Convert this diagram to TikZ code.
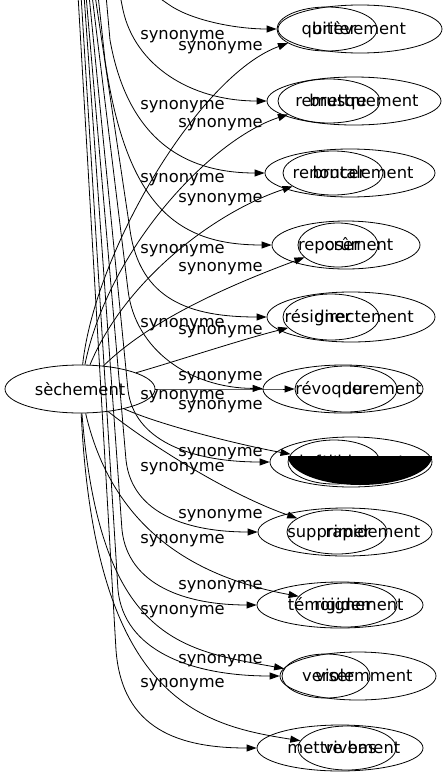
\documentclass[tikz,border=0pt]{standalone}
\usepackage{fontspec}
\setmainfont{DejaVu Sans}
\usetikzlibrary{arrows.meta,shapes.geometric}

\begin{document}
\begin{tikzpicture}[x=1pt, y=-1pt, line width=0.8pt,
    font=\fontsize{16.3}{19}\selectfont,
    ring/.style={draw, ellipse, inner sep=0pt},
    word/.style={inner sep=0pt, anchor=base},
    lbl/.style={inner sep=0pt},
    syn/.style={-{Triangle[length=10pt, width=7pt]}}]

\useasboundingbox (0,0) rectangle (446,779);

\node[ring, minimum width=150pt, minimum height=48pt] (sech) at (80,389) {sèchement};

    % rows: big ellipse, small ellipse, both words
    \foreach \n/\y/\bx/\brx/\bry/\sx/\srx/\sry/\bt/\st/\bw/\sw in {
    1/29/360/82/24/327/50/22/359/329/brièvement/quitter,
    2/101/354/87/24/329/51/22/364/331/brusquement/remettre,
    3/173/350/85/24/333/50/22/363/329/brutalement/renoncer,
    4/245/346/74/24/338/40/22/359/329/crûment/reposer,
    5/317/351/84/25/331/48/23/364/318/directement/résigner,
    6/389/343/80/24/346/51/23/382/332/durement/révoquer,
    7/462/351/81/25/334/46/22/360/330/froidement/destituer,
    8/532/345/87/24/337/50/22/373/329/rapidement/supprimer,
    9/605/340/83/23/346/51/22/359/330/rigidement/témoigner,
    10/676/358/78/24/326/44/22/364/328/violemment/verser,
    11/748/340/83/23/347/49/22/362/332/vivement/mettre bas}
    {
    \node[ring, minimum width={2*\brx}, minimum height={2*\bry}] (b\n) at (\bx,\y) {};
    \node[ring, minimum width={2*\srx}, minimum height={2*\sry}] (s\n) at (\sx,\y) {};
    \node[word] (bw\n) at (\bt,\y+5.5) {\bw};
    \node[word] (sw\n) at (\st,\y+5.5) {\sw};
    }

    \begin{scope}
    \clip (280,456) rectangle (440,495);
    \fill (360,456) ellipse [x radius=72, y radius=29];
    \end{scope}

    % edges coming down from above
    \foreach \n/\tx/\kx/\ky/\ax/\ay/\bx/\by/\tgt in {
    1/155/168/4/190/20/235/29/s1,
    2/120/123/10/135/65/190/101/b2,
    3/106/110/40/127/135/180/173/b3,
    4/98/105/60/127/210/180/245/b4,
    5/95/130/230/140/300/190/317/b5,
    6/92/128/290/135/350/190/388/b6,
    7/89/128/390/134/440/190/462/b7,
    8/86/126/460/132/515/190/532/b8,
    9/84/122/530/128/585/185/605/b9,
    10/81/118/590/124/650/190/676/b10,
    11/78/116/650/122/730/180/748/b11}
    {
    \coordinate (t\n) at (\tx,-5);
    \draw[syn] (t\n) -- (\kx,\ky) .. controls (\ax,\ay) and (\bx,\by) .. (\tgt);
    }

    % edges from sechement
    \foreach \n/\ax/\ay/\bx/\by/\tgt in {
    1/95/250/200/75/s1, 2/108/250/210/140/s2, 3/125/280/215/212/s3,
    4/150/320/230/285/s4, 5/180/360/240/340/s5, 6/200/389/250/389/s6,
    7/160/425/240/445/s7, 8/150/445/230/495/s8, 9/115/540/210/580/s9,
    10/100/640/180/650/s10, 11/95/700/200/725/s11}
    \draw[syn] (sech) .. controls (\ax,\ay) and (\bx,\by) .. (\tgt);

    \foreach \y [count=\i] in {37,107,180,251,325,397,469,541,612,685}
    \node[lbl] (la\i) at (182.5,\y) {synonyme};

    \foreach \y [count=\i] in {48,125,200,269,332,378,407,454,516,587,661}
    \node[lbl] (lb\i) at (220.5,\y) {synonyme};

\end{tikzpicture}
\end{document}
